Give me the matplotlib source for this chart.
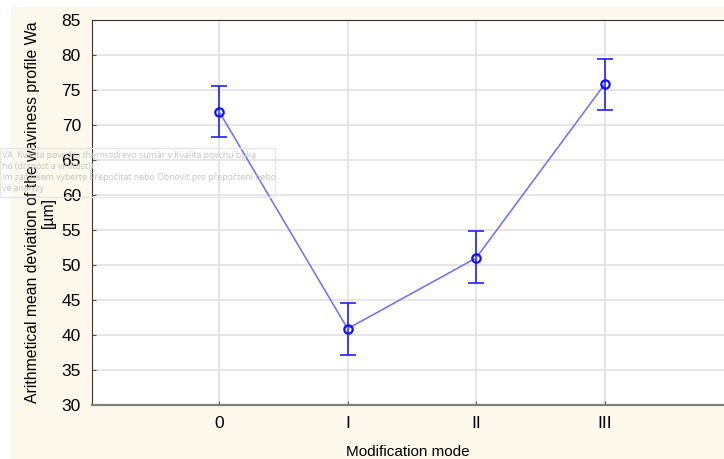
import numpy as np
import matplotlib
matplotlib.use('Agg')
import matplotlib.pyplot as plt
from matplotlib.patches import Rectangle

plt.rcParams['font.family'] = ['Liberation Sans', 'DejaVu Sans']

# data
modes = ['0', 'I', 'II', 'III']
wa_mean = [71.9, 40.9, 51.0, 75.8]
wa_low = [68.3, 37.1, 47.4, 72.1]
wa_high = [75.6, 44.6, 54.9, 79.4]

ghost_lines = ['VA  Kvalita povrchu thermodrevo sumár v Kvalita povchu buka',
               'ho (drsnosť a vlnitosť))',
               'ím začátkem vyberte Přepočítat nebo Obnovit pro přepočtení nebo',
               'vé analýzy']

x = np.arange(len(modes))
mean = np.array(wa_mean)
yerr = np.vstack([mean - np.array(wa_low), np.array(wa_high) - mean])

fig = plt.figure(figsize=(7.24, 4.59), dpi=100)
fig.patch.set_facecolor('white')
W, H = 724.0, 459.0

# cream panel behind everything
fig.patches.append(Rectangle((11/W, 0), 1 - 11/W, 1 - 7/H, transform=fig.transFigure,
                             facecolor='#fdf8ec', edgecolor='none', zorder=-10))

ax = fig.add_axes([92/W, 54/H, 1 - 92/W, (405 - 20)/H])
ax.set_facecolor('white')

ax.errorbar(x, mean, yerr=yerr, fmt='none', ecolor='#2020ff', elinewidth=1.2,
            capsize=6, capthick=1.2, zorder=3)
ax.plot(x, mean, '-', color='#6b6bff', linewidth=1.1, zorder=4)
ax.plot(x, mean, 'o', markerfacecolor='none', markeredgecolor='#1010ff',
        markersize=6, markeredgewidth=1.6, zorder=5)

ax.set_xlim(-0.99, 3.93)
ax.set_ylim(30, 85)
ax.set_yticks(np.arange(30, 86, 5))
ax.set_xticks(x)
ax.set_xticklabels(modes)
ax.grid(True, color='#e2e2e2', linewidth=1.2)
ax.set_axisbelow(True)

ax.spines['right'].set_visible(False)
ax.spines['top'].set_color('#333333')
ax.spines['left'].set_color('#333333')
ax.spines['bottom'].set_color('#808080')
ax.spines['bottom'].set_linewidth(1.6)
ax.tick_params(axis='both', direction='in', length=3, color='#555555',
               labelsize=12.5, pad=8)

ax.set_xlabel('Modification mode', fontsize=11, labelpad=10)
ax.set_ylabel('Arithmetical mean deviation of the waviness profile Wa\n[µm]',
              fontsize=11.3, labelpad=4, linespacing=1.05)

# faint leftover message box
for i, line in enumerate(ghost_lines):
    fig.text(2/W, 1 - (155 + i*11.2)/H, line, fontsize=6.3, color='#c4c4c4',
             ha='left', va='center', zorder=6, family=['Open Sans', 'DejaVu Sans'])
fig.patches.append(Rectangle((0, 1 - 197/H), 275/W, 49/H, transform=fig.transFigure,
                             facecolor='none', edgecolor='#e6e6e6', linewidth=1, zorder=6))

fig.savefig('out.png', dpi=100)
